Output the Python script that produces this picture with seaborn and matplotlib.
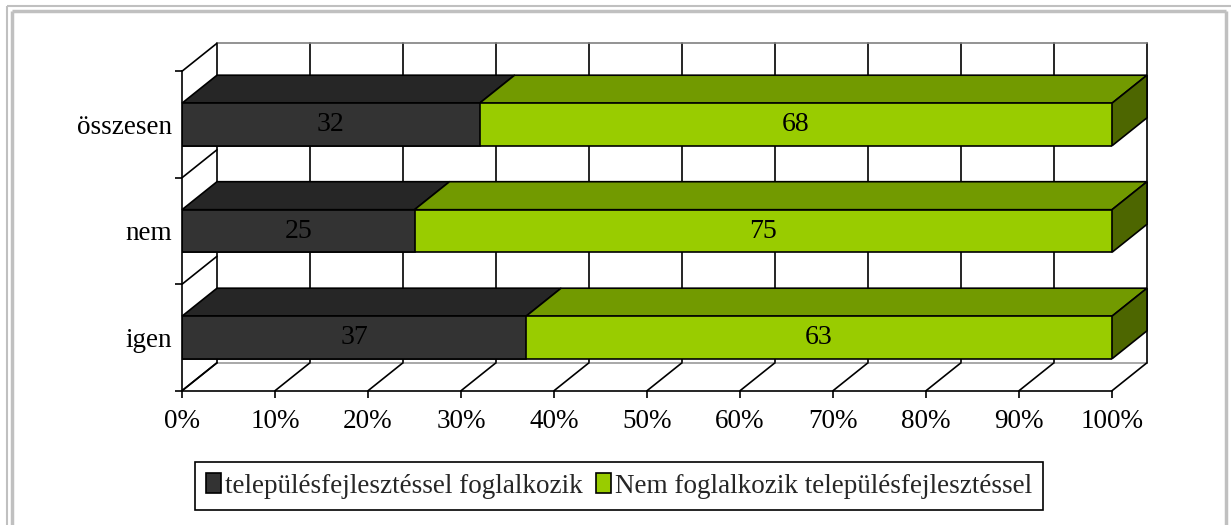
import matplotlib
matplotlib.use("Agg")
import matplotlib.pyplot as plt
from matplotlib.patches import Polygon, Patch, Rectangle
from matplotlib.lines import Line2D
import seaborn as sns

# --- data -------------------------------------------------------------
categories = ["összesen", "nem", "igen"]
foglalkozik = [32, 25, 37]
nem_foglalkozik = [68, 75, 63]
series_labels = ["településfejlesztéssel foglalkozik",
                 "Nem foglalkozik településfejlesztéssel"]
x_ticks = [0, 10, 20, 30, 40, 50, 60, 70, 80, 90, 100]

# --- style ------------------------------------------------------------
sns.set_theme(style="white")
plt.rcParams["font.family"] = ["Liberation Serif", "DejaVu Serif"]
FS_TICK = 19.5
FS_CAT = 19.5
FS_VAL = 20
FS_LEG = 19.5

DARK_FRONT, DARK_TOP = "#333333", "#262626"
GREEN_FRONT, GREEN_TOP, GREEN_SIDE = "#99CC00", "#729A00", "#4D6600"
EDGE = "black"
LW = 1.2
BAR_H = 0.40

W, H = 1231, 525
fig = plt.figure(figsize=(W / 100, H / 100), dpi=100)
fig.patch.set_facecolor("white")

# front plane of the 3-D box in pixels
x0_px, x1_px = 182, 1112
ytop_px, ybot_px = 71.25, 390.75
ax = fig.add_axes([x0_px / W, 1 - ybot_px / H,
                   (x1_px - x0_px) / W, (ybot_px - ytop_px) / H])
ax.set_facecolor("none")

# depth offset of the box (data units)
DX = 35 / (x1_px - x0_px) * 100
DY = 28 / ((ybot_px - ytop_px) / 3)

n = len(categories)
y_lo, y_hi = -0.5, n - 0.5

# --- back wall ----------------------------------------------------------
ax.add_patch(Polygon([(DX, y_lo - DY), (100 + DX, y_lo - DY),
                      (100 + DX, y_hi - DY), (DX, y_hi - DY)],
                     closed=True, facecolor="white", edgecolor="none",
                     zorder=0.3, clip_on=False))
for xv in x_ticks:
    ax.plot([xv + DX, xv + DX], [y_lo - DY, y_hi - DY], color=EDGE,
            lw=LW, zorder=0.6, clip_on=False)
ax.plot([DX, 100 + DX], [y_lo - DY, y_lo - DY], color="#808080",
        lw=LW, zorder=0.6, clip_on=False)

# --- left side wall -----------------------------------------------------
ax.add_patch(Polygon([(0, y_lo), (DX, y_lo - DY), (DX, y_hi - DY), (0, y_hi)],
                     closed=True, facecolor="white", edgecolor="none",
                     zorder=0.4, clip_on=False))
for k in range(n + 1):
    yb = y_lo + k
    ax.plot([0, DX], [yb, yb - DY], color=EDGE, lw=LW, zorder=0.7,
            clip_on=False)

# --- floor --------------------------------------------------------------
ax.add_patch(Polygon([(0, y_hi), (100, y_hi), (100 + DX, y_hi - DY),
                      (DX, y_hi - DY)],
                     closed=True, facecolor="white", edgecolor="none",
                     zorder=0.4, clip_on=False))
ax.plot([DX, 100 + DX], [y_hi - DY, y_hi - DY], color="#9a9a9a",
        lw=LW, zorder=0.6, clip_on=False)
for xv in x_ticks:
    ax.plot([xv, xv + DX], [y_hi, y_hi - DY], color=EDGE, lw=LW,
            zorder=0.7, clip_on=False)

# --- bars: front faces ----------------------------------------------------
totals = [a + b for a, b in zip(foglalkozik, nem_foglalkozik)]
sns.barplot(x=totals, y=categories, orient="h", color=GREEN_FRONT,
            saturation=1, width=BAR_H, edgecolor=EDGE, linewidth=LW, ax=ax)
sns.barplot(x=foglalkozik, y=categories, orient="h", color=DARK_FRONT,
            saturation=1, width=BAR_H, edgecolor=EDGE, linewidth=LW, ax=ax)
for p in ax.patches:
    if isinstance(p, Rectangle) and p.get_zorder() < 1.5:
        p.set_zorder(3)

# --- bars: top and side faces ----------------------------------------------
for i, (a, b) in enumerate(zip(foglalkozik, nem_foglalkozik)):
    top = i - BAR_H / 2
    bot = i + BAR_H / 2
    for left, right, col in [(0, a, DARK_TOP), (a, a + b, GREEN_TOP)]:
        ax.add_patch(Polygon([(left, top), (right, top),
                              (right + DX, top - DY), (left + DX, top - DY)],
                             closed=True, facecolor=col, edgecolor=EDGE,
                             lw=LW, zorder=2.5, clip_on=False))
    r = a + b
    ax.add_patch(Polygon([(r, top), (r + DX, top - DY), (r + DX, bot - DY),
                          (r, bot)],
                         closed=True, facecolor=GREEN_SIDE, edgecolor=EDGE,
                         lw=LW, zorder=2.5, clip_on=False))
    # value labels on the front faces
    ax.text(a / 2, i, str(a), ha="center", va="center", fontsize=FS_VAL,
            color="black", zorder=5)
    ax.text(a + b / 2, i, str(b), ha="center", va="center", fontsize=FS_VAL,
            color="black", zorder=5)

# --- axes -----------------------------------------------------------------
ax.set_xlim(0, 100)
ax.set_ylim(y_hi, y_lo)
ax.set_xlabel("")
ax.set_ylabel("")
ax.set_xticks(x_ticks)
ax.set_xticklabels([f"{v}%" for v in x_ticks], fontsize=FS_TICK)
ax.set_yticks(range(n))
ax.set_yticklabels(categories, fontsize=FS_CAT)
ax.set_yticks([y_lo + k for k in range(n + 1)], minor=True)
ax.tick_params(axis="x", which="major", length=5, width=LW, color=EDGE,
               direction="out", bottom=True, pad=8, labelcolor="black")
ax.tick_params(axis="y", which="major", length=0, pad=7.5, labelcolor="black")
ax.tick_params(axis="y", which="minor", length=5, width=LW, color=EDGE,
               direction="out", left=True)
for side in ["top", "right"]:
    ax.spines[side].set_visible(False)
for side in ["left", "bottom"]:
    ax.spines[side].set_visible(True)
    ax.spines[side].set_color(EDGE)
    ax.spines[side].set_linewidth(LW)
    ax.spines[side].set_zorder(4)
ax.grid(False)

# --- legend -----------------------------------------------------------------
handles = [Patch(facecolor=DARK_FRONT, edgecolor=EDGE, linewidth=LW),
           Patch(facecolor=GREEN_FRONT, edgecolor=EDGE, linewidth=LW)]
leg = fig.legend(handles, series_labels, loc="center",
                 bbox_to_anchor=(619 / W, 1 - 486 / H), ncol=2,
                 fontsize=FS_LEG, frameon=True, fancybox=False, framealpha=1,
                 edgecolor=EDGE, handlelength=0.55, handleheight=0.75,
                 handletextpad=0.15, columnspacing=0.5, borderpad=0.4,
                 borderaxespad=0)
leg.get_frame().set_linewidth(LW)

# --- page frame -------------------------------------------------------------
def fig_line(xs, ys, lw):
    fig.add_artist(Line2D([x / W for x in xs], [1 - y / H for y in ys],
                          transform=fig.transFigure, color="#C0C0C0",
                          lw=lw, solid_capstyle="butt"))

fig_line([7, 7], [6, H], 1.5)
fig_line([7, W], [6, 6], 1.5)
fig_line([11.7, 11.7], [11.2, H], 2.5)
fig_line([11.7, 1226.2], [11.2, 11.2], 2.5)
fig_line([1226.2, 1226.2], [11.2, H], 2.5)

fig.savefig("out.png", dpi=100, facecolor="white")
